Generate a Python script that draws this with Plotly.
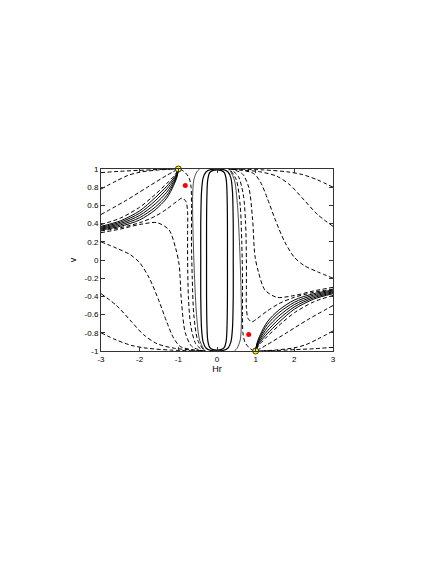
import plotly.graph_objects as go

# --- upper-left family ---
d1_x = [-3, -2.5, -2, -1.5, -1]
d1_y = [0.96, 0.975, 0.985, 0.995, 1.0]
d2_x = [-3, -2.6, -2.3, -2.0, -1.5, -1]
d2_y = [0.78, 0.87, 0.93, 0.965, 0.99, 1.0]
d3_x = [-3, -2.33, -1.8, -1.3, -1]
d3_y = [0.5, 0.66, 0.8, 0.93, 1.0]
d4_x = [-3, -2.5, -2, -1.55, -1.24, -1.07, -0.98, -0.92, -0.82, -0.65, -0.35]
d4_y = [0.3, 0.34, 0.39, 0.41, 0.33, 0.13, -0.05, -0.45, -0.8, -0.95, -1.0]
d5_x = [-3, -2.6, -2.25, -2.0, -1.75, -1.5, -1.3, -1.12, -0.95, -0.6, -0.3]
d5_y = [0.2, 0.13, 0.06, -0.03, -0.2, -0.45, -0.68, -0.86, -0.95, -0.99, -1.0]
d6_x = [-3, -2.6, -2.25, -1.9, -1.55, -1.1, -0.6, -0.3]
d6_y = [-0.37, -0.5, -0.66, -0.82, -0.92, -0.97, -0.99, -1.0]
d7_x = [-3, -2.6, -2.2, -1.8, -1.2, -0.3]
d7_y = [-0.8, -0.88, -0.94, -0.97, -0.99, -1.0]

bundle_x = [-3, -2.5, -2, -1.6, -1.3, -1.12, -1.03, -1]
b1_y = [0.33, 0.37, 0.44, 0.55, 0.68, 0.82, 0.92, 1.0]
b2_y = [0.34, 0.385, 0.465, 0.58, 0.71, 0.84, 0.93, 1.0]
b3_y = [0.35, 0.40, 0.49, 0.615, 0.745, 0.86, 0.94, 1.0]
b4_y = [0.36, 0.415, 0.515, 0.65, 0.78, 0.88, 0.95, 1.0]
b5_y = [0.37, 0.43, 0.54, 0.685, 0.81, 0.9, 0.96, 1.0]
bd_y = [0.39, 0.46, 0.58, 0.72, 0.84, 0.92, 0.97, 1.0]

h1_x = [-3, -2.5, -2, -1.6, -1.3, -1.05, -0.9, -0.8, -0.76, -0.76, -0.76, -0.74, -0.68, -0.55, -0.35]
h1_y = [0.32, 0.355, 0.41, 0.48, 0.56, 0.64, 0.68, 0.64, 0.52, 0.3, 0, -0.4, -0.72, -0.92, -1.0]
h2_x = [-0.95, -0.82, -0.72, -0.67, -0.66, -0.66, -0.64, -0.6, -0.5, -0.33]
h2_y = [1.0, 0.96, 0.9, 0.8, 0.6, 0.2, -0.2, -0.6, -0.88, -1.0]
h3_x = [-0.45, -0.52, -0.6, -0.63, -0.62, -0.58, -0.53, -0.45, -0.32]
h3_y = [1.0, 0.97, 0.88, 0.7, 0.3, -0.2, -0.6, -0.88, -1.0]

# --- lower-right family ---
d1m_x = [3, 2.5, 2, 1.5, 1]
d1m_y = [-0.96, -0.975, -0.985, -0.995, -1.0]
d2m_x = [3, 2.6, 2.3, 2.0, 1.5, 1]
d2m_y = [-0.78, -0.87, -0.93, -0.965, -0.99, -1.0]
d3m_x = [3, 2.33, 1.8, 1.3, 1]
d3m_y = [-0.5, -0.66, -0.8, -0.93, -1.0]
d4m_x = [3, 2.5, 2, 1.55, 1.24, 1.07, 0.98, 0.92, 0.82, 0.65, 0.35]
d4m_y = [-0.3, -0.34, -0.39, -0.41, -0.33, -0.13, 0.05, 0.45, 0.8, 0.95, 1.0]
d5m_x = [3, 2.6, 2.25, 2.0, 1.75, 1.5, 1.3, 1.12, 0.95, 0.6, 0.3]
d5m_y = [-0.2, -0.13, -0.06, 0.03, 0.2, 0.45, 0.68, 0.86, 0.95, 0.99, 1.0]
d6m_x = [3, 2.6, 2.25, 1.9, 1.55, 1.1, 0.6, 0.3]
d6m_y = [0.37, 0.5, 0.66, 0.82, 0.92, 0.97, 0.99, 1.0]
d7m_x = [3, 2.6, 2.2, 1.8, 1.2, 0.3]
d7m_y = [0.8, 0.88, 0.94, 0.97, 0.99, 1.0]

bundlem_x = [3, 2.5, 2, 1.6, 1.3, 1.12, 1.03, 1]
b1m_y = [-0.33, -0.37, -0.44, -0.55, -0.68, -0.82, -0.92, -1.0]
b2m_y = [-0.34, -0.385, -0.465, -0.58, -0.71, -0.84, -0.93, -1.0]
b3m_y = [-0.35, -0.40, -0.49, -0.615, -0.745, -0.86, -0.94, -1.0]
b4m_y = [-0.36, -0.415, -0.515, -0.65, -0.78, -0.88, -0.95, -1.0]
b5m_y = [-0.37, -0.43, -0.54, -0.685, -0.81, -0.9, -0.96, -1.0]
bdm_y = [-0.39, -0.46, -0.58, -0.72, -0.84, -0.92, -0.97, -1.0]

h1m_x = [3, 2.5, 2, 1.6, 1.3, 1.05, 0.9, 0.8, 0.76, 0.76, 0.76, 0.74, 0.68, 0.55, 0.35]
h1m_y = [-0.32, -0.355, -0.41, -0.48, -0.56, -0.64, -0.68, -0.64, -0.52, -0.3, 0, 0.4, 0.72, 0.92, 1.0]
h2m_x = [0.95, 0.82, 0.72, 0.67, 0.66, 0.66, 0.64, 0.6, 0.5, 0.33]
h2m_y = [-1.0, -0.96, -0.9, -0.8, -0.6, -0.2, 0.2, 0.6, 0.88, 1.0]
h3m_x = [0.45, 0.52, 0.6, 0.63, 0.62, 0.58, 0.53, 0.45, 0.32]
h3m_y = [-1.0, -0.97, -0.88, -0.7, -0.3, 0.2, 0.6, 0.88, 1.0]

# --- central closed orbits ---
outer_x = [0, 0.15, 0.28, 0.36, 0.4, 0.42, 0.42, 0.42, 0.4, 0.36, 0.28, 0.15, 0,
           -0.15, -0.28, -0.36, -0.4, -0.42, -0.42, -0.42, -0.4, -0.36, -0.28, -0.15, 0]
outer_y = [1.0, 0.995, 0.97, 0.9, 0.75, 0.4, 0, -0.4, -0.75, -0.9, -0.97, -0.995, -1.0,
           -0.995, -0.97, -0.9, -0.75, -0.4, 0, 0.4, 0.75, 0.9, 0.97, 0.995, 1.0]
inner_x = [0, 0.1, 0.19, 0.24, 0.26, 0.27, 0.27, 0.27, 0.26, 0.24, 0.19, 0.1, 0,
           -0.1, -0.19, -0.24, -0.26, -0.27, -0.27, -0.27, -0.26, -0.24, -0.19, -0.1, 0]
inner_y = [0.99, 0.985, 0.96, 0.88, 0.72, 0.4, 0, -0.4, -0.72, -0.88, -0.96, -0.985, -0.99,
           -0.985, -0.96, -0.88, -0.72, -0.4, 0, 0.4, 0.72, 0.88, 0.96, 0.985, 0.99]

# --- equilibria ---
saddle_x = [-0.82, 0.82]
saddle_y = [0.82, -0.82]
node_x = [-1, 1]
node_y = [1, -1]

x_ticks = [-3, -2, -1, 0, 1, 2, 3]
y_ticks = [-1, -0.8, -0.6, -0.4, -0.2, 0, 0.2, 0.4, 0.6, 0.8, 1]
y_labels = ['-1', '-0.8', '-0.6', '-0.4', '-0.2', '0', '0.2', '0.4', '0.6', '0.8', '1']

fig = go.Figure()


def add_curve(x, y, dashed, width=1.0):
    fig.add_trace(go.Scatter(
        x=x, y=y, mode='lines',
        line=dict(color='black', width=width, dash='4px,2.5px' if dashed else 'solid',
                  shape='spline', smoothing=0.8),
        hoverinfo='skip', showlegend=False,
    ))


dashed_curves = [
    (d1_x, d1_y), (d2_x, d2_y), (d3_x, d3_y), (d4_x, d4_y), (d5_x, d5_y),
    (d6_x, d6_y), (d7_x, d7_y), (bundle_x, bd_y), (h1_x, h1_y), (h2_x, h2_y),
    (d1m_x, d1m_y), (d2m_x, d2m_y), (d3m_x, d3m_y), (d4m_x, d4m_y), (d5m_x, d5m_y),
    (d6m_x, d6m_y), (d7m_x, d7m_y), (bundlem_x, bdm_y), (h1m_x, h1m_y), (h2m_x, h2m_y),
]
solid_curves = [
    (bundle_x, b1_y), (bundle_x, b2_y), (bundle_x, b3_y), (bundle_x, b4_y), (bundle_x, b5_y),
    (bundlem_x, b1m_y), (bundlem_x, b2m_y), (bundlem_x, b3m_y), (bundlem_x, b4m_y), (bundlem_x, b5m_y),
]

for cx, cy in dashed_curves:
    add_curve(cx, cy, True)
for cx, cy in solid_curves:
    add_curve(cx, cy, False)
add_curve(h3_x, h3_y, False, 0.7)
add_curve(h3m_x, h3m_y, False, 0.7)
add_curve(outer_x, outer_y, False, 1.2)
add_curve(inner_x, inner_y, False, 1.2)

fig.add_trace(go.Scatter(
    x=saddle_x, y=saddle_y, mode='markers',
    marker=dict(color='red', size=5),
    hoverinfo='skip', showlegend=False,
))
fig.add_trace(go.Scatter(
    x=node_x, y=node_y, mode='markers', cliponaxis=False,
    marker=dict(color='yellow', size=6, line=dict(color='#333', width=1)),
    hoverinfo='skip', showlegend=False,
))

label_font = dict(family='Liberation Sans, Arial', size=9, color='black')
axis_common = dict(
    showline=True, linecolor='#333', linewidth=1, mirror='ticks',
    ticks='inside', ticklen=4, tickcolor='#333', showgrid=False, zeroline=False,
    tickfont=dict(family='Liberation Sans, Arial', size=8, color='black'),
)
fig.update_xaxes(range=[-3, 3], tickvals=x_ticks, ticktext=[str(t) for t in x_ticks],
                 title=dict(text='Hr', font=label_font, standoff=2), **axis_common)
fig.update_yaxes(range=[-1, 1], tickvals=y_ticks, ticktext=y_labels,
                 title=dict(text='v', font=label_font, standoff=6), **axis_common)
# the page body adds 8px around the plot div
fig.update_layout(
    width=436, height=564,
    margin=dict(l=93, r=111, t=161, b=221),
    paper_bgcolor='white', plot_bgcolor='white',
)
fig.write_html("out.html")
